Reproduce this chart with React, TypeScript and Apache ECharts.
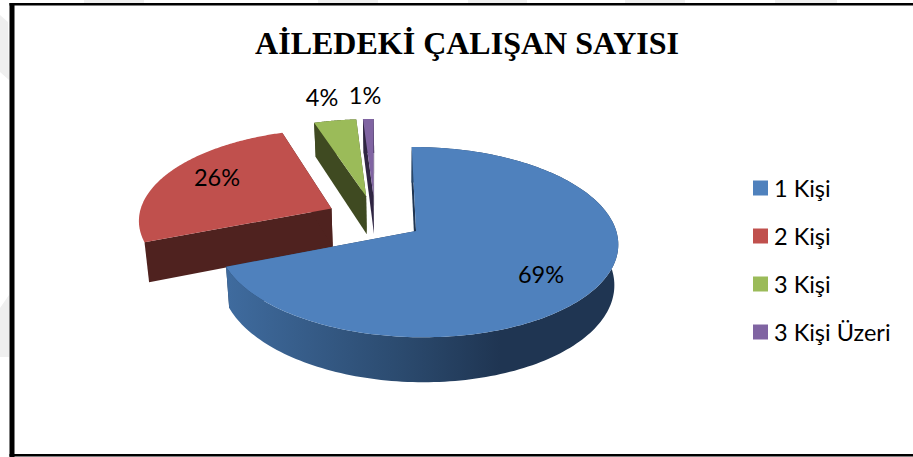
import React, { useEffect, useRef } from "react";
import * as echarts from "echarts";

const categories = ["1 Kişi", "2 Kişi", "3 Kişi", "3 Kişi Üzeri"];
const percentages = [69, 26, 4, 1];
const topColors = ["#4F81BD", "#C0504D", "#9BBB59", "#8064A2"];
const faceColors = ["#1F3552", "#4F221F", "#3F4A21", "#2F2542"];
const titleText = "AİLEDEKİ ÇALIŞAN SAYISI";

// Perspective geometry of the tilted, exploded pie
const CX = 375, CY = 218, RX = 195, RY = 90.7, PERSP = 0.115, PERSP_X = 0.007, DEPTH = 39, EXPLODE = 0.25;
const VANISH_X = 400, BOTTOM_SCALE = 0.982;
const labelAnchors: [number, number][] = [[541, 274], [217, 177], [322, 97], [365, 95]];
const drawOrderZ = [5, 2, 3, 4];

const total = percentages.reduce((a, b) => a + b, 0);
const startAngles = percentages.map((_, i) => percentages.slice(0, i).reduce((a, b) => a + b, 0) / total * 360);

const dirOf = (deg: number): [number, number] => {
  const r = (deg * Math.PI) / 180;
  return [Math.sin(r), -Math.cos(r)];
};
const project = (u: number, v: number, drop = 0): [number, number] => {
  const w = 1 - PERSP * v - PERSP_X * u;
  const x = CX + (RX * u) / w;
  return [
    drop ? VANISH_X + (x - VANISH_X) * BOTTOM_SCALE : x,
    CY + (RY * v) / w + (drop * DEPTH) / w,
  ];
};

function renderSlice(i: number, value: number) {
  const a0 = startAngles[i];
  const a1 = a0 + (value / total) * 360;
  const [mu, mv] = dirOf((a0 + a1) / 2);
  const ou = mu * EXPLODE, ov = mv * EXPLODE;
  const arc: [number, number][] = [];
  for (let t = 0; t <= 180; t++) {
    const [u, v] = dirOf(a0 + ((a1 - a0) * t) / 180);
    arc.push([u + ou, v + ov]);
  }
  const top = arc.map(([u, v]) => project(u, v));
  const bottom = arc.map(([u, v]) => project(u, v, 1));
  const apex = project(ou, ov);
  const apexB = project(ou, ov, 1);
  const poly = (points: [number, number][], fill: any) => ({
    type: "polygon",
    shape: { points },
    style: { fill },
    silent: true,
  });
  const wallFill =
    i === 0
      ? new echarts.graphic.LinearGradient(228, 0, 617, 0, [
          { offset: 0, color: "#3F6B9E" },
          { offset: 0.45, color: "#2B4A6E" },
          { offset: 0.7, color: "#1F3552" },
          { offset: 1, color: "#1F3552" },
        ], true)
      : faceColors[i];
  const wall = poly([...top, ...[...bottom].reverse()], wallFill);
  const faceA = poly([apex, top[0], bottom[0], apexB], faceColors[i]);
  const faceB = poly([apex, top[top.length - 1], bottom[bottom.length - 1], apexB], faceColors[i]);
  // The red slice's outer wall is barely visible in the reference, so only its cut faces are drawn.
  const sides = i === 0 ? [faceA, faceB, wall] : i === 1 ? [faceA, faceB] : [wall, faceA, faceB];
  const children: any[] = [
    ...sides,
    poly([apex, ...top], topColors[i]),
    {
      type: "text",
      x: labelAnchors[i][0],
      y: labelAnchors[i][1],
      silent: true,
      style: {
        text: `${value}%`,
        fill: "#000",
        font: "23.5px Lato",
        align: "center",
        verticalAlign: "middle",
      },
    },
  ];
  return { type: "group", children };
}

const watermark = [
  [84, 144], [318, 378], [468, 527], [625, 685], [775, 837],
].map(([a, b]) => ({
  type: "rect",
  shape: { x: a, y: 0, width: b - a, height: 4 },
  style: { fill: "#EFEFEF" },
  silent: true,
  z: -2,
}));

export default function App() {
  const ref = useRef<HTMLDivElement>(null);
  useEffect(() => {
    const chart = echarts.init(ref.current!, null, { renderer: "svg" });
    chart.setOption({
      animation: false,
      backgroundColor: "#fff",
      title: {
        text: titleText,
        left: 462,
        top: 22,
        textAlign: "center",
        textStyle: { fontFamily: "Liberation Serif", fontWeight: "bold", fontSize: 32, color: "#000" },
      },
      legend: {
        orient: "vertical",
        left: 753,
        top: 176,
        padding: 0,
        itemWidth: 15,
        itemHeight: 15,
        itemGap: 24,
        icon: "rect",
        selectedMode: false,
        data: categories,
        textStyle: { fontFamily: "Lato", fontSize: 23.5, lineHeight: 24, color: "#000", padding: [0, 0, 0, 1] },
      },
      graphic: [
        ...watermark,
        { type: "polygon", shape: { points: [[0, 15], [8, 22], [9, 80], [0, 72]] }, style: { fill: "#EFEFEF" }, silent: true, z: -2 },
        { type: "polygon", shape: { points: [[0, 308], [9, 295], [9, 357], [0, 357]] }, style: { fill: "#EFEFEF" }, silent: true, z: -2 },
        { type: "rect", shape: { x: 9.5, y: 3, width: 904, height: 2.5 }, style: { fill: "#000" }, silent: true },
        { type: "rect", shape: { x: 9.5, y: 3, width: 5, height: 454 }, style: { fill: "#000" }, silent: true },
        { type: "rect", shape: { x: 9.5, y: 454, width: 904, height: 2.5 }, style: { fill: "#000" }, silent: true },
      ],
      series: categories.map((name, i) => ({
        type: "custom",
        name,
        coordinateSystem: "none",
        z: drawOrderZ[i],
        silent: true,
        itemStyle: { color: topColors[i] },
        data: [[percentages[i]]],
        renderItem: (_: any, api: any) => renderSlice(i, api.value(0)),
      })),
    });
    return () => chart.dispose();
  }, []);
  return <div ref={ref} style={{ position: "absolute", left: 0, top: 0, width: 913, height: 457 }} />;
}
